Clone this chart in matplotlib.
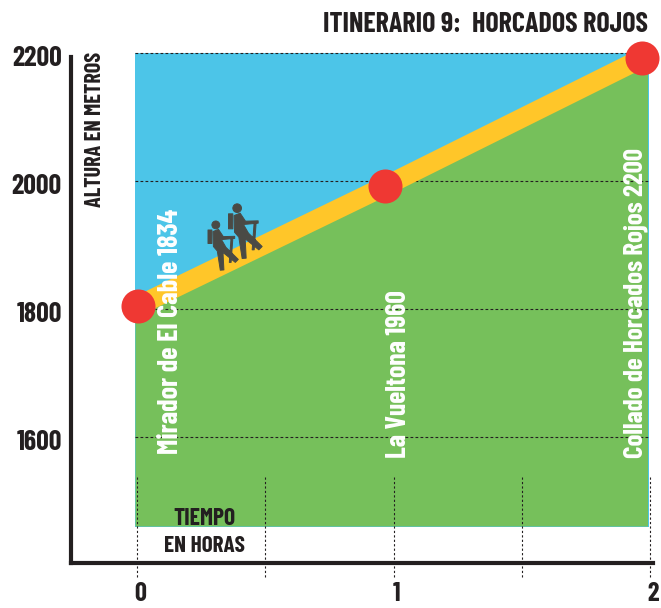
import matplotlib
matplotlib.use("Agg")
import matplotlib.pyplot as plt
from matplotlib.path import Path
from matplotlib.transforms import ScaledTranslation

# ---- data ----
route_hours = [0.004, 0.967, 1.97]
route_altitude = [1805, 1992, 2192]
point_labels = ["Mirador de El Cable 1834", "La Vueltona 1960", "Collado de Horcados Rojos 2200"]
y_ticks = [1600, 1800, 2000, 2200]
x_ticks = [0, 1, 2]
x_guides = [0, 0.5, 1, 1.5, 2]
title = "ITINERARIO 9:  HORCADOS ROJOS"
y_title = "ALTURA EN METROS"
x_title = ["TIEMPO", "EN HORAS"]

BLUE, GREEN, YELLOW, RED, INK = "#4CC5E8", "#76C05B", "#FFC629", "#EF3833", "#231F20"
HIKER = "#4A4A45"
FONT = ["Barlow Condensed", "Liberation Sans", "DejaVu Sans"]
plt.rcParams["font.family"] = FONT
plt.rcParams["font.weight"] = "bold"

W, H = 661, 608
fig = plt.figure(figsize=(W / 100, H / 100), dpi=100)
L, R, T, B = 71.3, 653, 45, 563.3
ax = fig.add_axes([L / W, 1 - B / H, (R - L) / W, (B - T) / H])
px_x = lambda p: (p - 137) / 256.5
px_y = lambda p: 2200 - (p - 53) / 0.64
ax.set_xlim(px_x(L), px_x(R))
ax.set_ylim(px_y(B), px_y(T))
ax.patch.set_alpha(0)

# sky and ground
left, right, floor = px_x(135), px_x(648.5), px_y(527.5)
ax.fill_between([left, right], floor, 2200, color=BLUE, lw=0, zorder=1)
green_end = px_x(647.5)
slope0 = (route_altitude[1] - route_altitude[0]) / (route_hours[1] - route_hours[0])
slope1 = (route_altitude[2] - route_altitude[1]) / (route_hours[2] - route_hours[1])
xs = [left] + route_hours + [green_end]
ys = [route_altitude[0] + slope0 * (left - route_hours[0])] + route_altitude + \
     [route_altitude[2] + slope1 * (green_end - route_hours[2])]
ax.fill_between(xs, px_y(526), ys, color=GREEN, lw=0, zorder=2)

# guides
ax.hlines(y_ticks, left, right, color=INK, lw=0.8, ls=(0, (2.5, 2)), zorder=3)
ax.vlines(x_guides, px_y(577), px_y(477), color=INK, lw=0.8, ls=(0, (2, 2)), zorder=3, clip_on=False)

# route
ax.plot(route_hours, route_altitude, color=YELLOW, lw=14, solid_capstyle="butt",
        solid_joinstyle="round", zorder=4)
ax.plot(route_hours, route_altitude, "o", color=RED, ms=24.5, mew=0, zorder=6, clip_on=False)


# hiker icon
def hiker_path():
    cx, cy = 160, 135
    polys = [
        [(115, 70), (128, 70), (128, 115), (115, 115)],
        [(132, 75), (150, 68), (166, 92), (204, 91), (204, 98), (160, 102), (175, 128),
         (216, 168), (206, 178), (165, 145), (168, 203), (156, 204), (146, 140), (133, 125)],
        [(192, 95), (198, 95), (192, 178), (186, 178)],
    ]
    verts, codes = [], []
    for poly in polys:
        pts = [(x - cx, cy - y) for x, y in poly]
        verts += pts + [pts[0]]
        codes += [Path.MOVETO] + [Path.LINETO] * (len(pts) - 1) + [Path.CLOSEPOLY]
    head = Path.circle((141 - cx, cy - 53), 13)
    verts += [tuple(v) for v in head.vertices]
    codes += list(head.codes)
    return Path(verts, codes)


hiker = hiker_path()
ax.scatter([px_x(243.3)], [px_y(235)], marker=hiker, s=2080, color=HIKER, lw=0.7, edgecolor=HIKER, zorder=5)
ax.scatter([px_x(221.3)], [px_y(249)], marker=hiker, s=1685, color=HIKER, lw=0.7, edgecolor=HIKER, zorder=5)

# axes
for s in ("top", "right"):
    ax.spines[s].set_visible(False)
for s in ("left", "bottom"):
    ax.spines[s].set_linewidth(3)
    ax.spines[s].set_color(INK)
ax.spines["left"].set_bounds(px_y(B), px_y(56.7))
ax.set_yticks(y_ticks)
ax.set_yticklabels([str(v) for v in y_ticks], fontsize=20, color=INK)
ax.set_xticks(x_ticks)
ax.set_xticklabels([str(v) for v in x_ticks], fontsize=19, color=INK)
ax.tick_params(axis="both", length=0)
ax.tick_params(axis="y", pad=7)
ax.tick_params(axis="x", pad=13.5)
shift_y = ScaledTranslation(0, -3 / 100, fig.dpi_scale_trans)
shift_x = ScaledTranslation(3 / 100, 0, fig.dpi_scale_trans)
for t in ax.get_yticklabels():
    t.set_transform(t.get_transform() + shift_y)
for t in ax.get_xticklabels():
    t.set_transform(t.get_transform() + shift_x)

renderer = fig.canvas.get_renderer()


def fit(text, length):
    """Scale a text's font size so that its long side spans `length` pixels."""
    box = text.get_window_extent(renderer)
    size = text.get_fontsize() * length / max(box.width, box.height)
    text.set_fontsize(size)
    return text


# point labels
label_px = [(170, 454, 245), (398, 458, 168), (636, 458, 310)]
for (x, y, length), label in zip(label_px, point_labels):
    fit(ax.text(px_x(x), px_y(y), label, rotation=90, rotation_mode="anchor", ha="left", va="center",
                color="white", fontsize=20, zorder=7), length)

# titles
fit(fig.text(648 / W, 1 - 24 / H, title, ha="right", va="center", fontsize=20, color=INK), 325)
fit(ax.text(px_x(95), px_y(129), y_title, rotation=90, ha="center", va="center", fontsize=15, color=INK, zorder=7), 155)
fit(ax.text(px_x(204), px_y(519), x_title[0], ha="center", va="center", fontsize=15, color=INK, zorder=7), 62)
fit(ax.text(px_x(204), px_y(546), x_title[1], ha="center", va="center", fontsize=15, color=INK, zorder=7), 81)

fig.savefig("out.png", dpi=100)
